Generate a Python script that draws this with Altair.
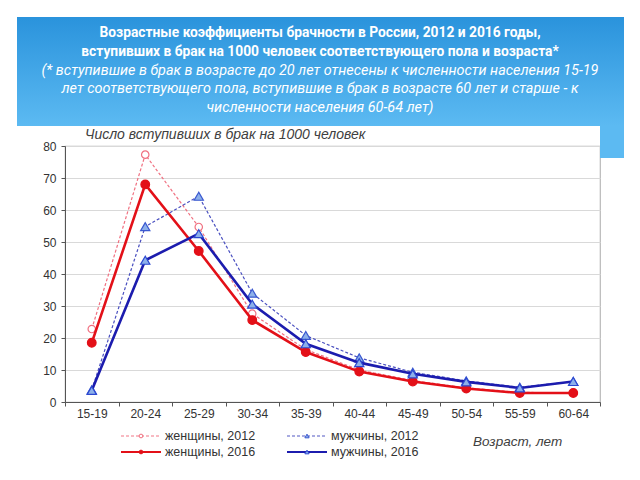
import altair as alt
import pandas as pd

# ---- data ----
ages = ["15-19", "20-24", "25-29", "30-34", "35-39", "40-44", "45-49", "50-54", "55-59", "60-64"]
women_2012 = [22.8, 77.3, 54.7, 27.6, 16.4, 10.0, 6.7, 4.4, 3.0, 2.9]
men_2012 = [3.8, 54.8, 64.3, 34.0, 20.8, 13.8, 9.3, 6.6, 4.6, 6.4]
women_2016 = [18.5, 68.0, 47.2, 25.6, 15.6, 9.5, 6.4, 4.2, 2.8, 2.8]
men_2016 = [3.6, 44.3, 52.6, 30.6, 18.2, 12.3, 8.8, 6.3, 4.4, 6.4]
series_names = ["женщины, 2012", "мужчины, 2012", "женщины, 2016", "мужчины, 2016"]
y_ticks = [0, 10, 20, 30, 40, 50, 60, 70, 80]

title_bold = [
    "Возрастные коэффициенты брачности в России, 2012 и 2016 годы,",
    "вступивших в брак на 1000 человек соответствующего пола и возраста*",
]
title_italic = [
    "(* вступившие в брак в возрасте до 20 лет отнесены к численности населения 15-19",
    "лет соответствующего пола, вступившие в брак в возрасте 60 лет и старше - к",
    "численности населения 60-64 лет)",
]
y_title = "Число вступивших в брак на 1000 человек"
x_title = "Возраст, лет"

rows = []
for name, vals in zip(series_names, [women_2012, men_2012, women_2016, men_2016]):
    for a, v in zip(ages, vals):
        rows.append({"age": a, "value": v, "series": name})
df = pd.DataFrame(rows)
dummy = pd.DataFrame({"d": [0]})

W, H = 535, 256
AX_FONT = "Liberation Sans"
TITLE_FONT = "Roboto"

styles = {
    "женщины, 2012": dict(color="#f07080", width=1.2, dash=[3, 2], shape="circle",
                          fill="#ffffff", stroke="#f07080", size=55, lsize=14),
    "мужчины, 2012": dict(color="#4a50c0", width=1.2, dash=[3, 2], shape="triangle-up",
                          fill="#8db0ea", stroke="#3a58d0", size=85, lsize=18),
    "женщины, 2016": dict(color="#e31018", width=2.6, dash=None, shape="circle",
                          fill="#e31018", stroke="#e31018", size=75, lsize=14),
    "мужчины, 2016": dict(color="#1c1cae", width=2.6, dash=None, shape="triangle-up",
                          fill="#8db0ea", stroke="#2c48d0", size=85, lsize=18),
}

x_enc = alt.X(
    "age:N", sort=ages, bandPosition=0.5,
    scale=alt.Scale(type="band", paddingInner=0, paddingOuter=0),
    axis=alt.Axis(title=None, labelAngle=0, tickBand="extent", tickSize=4,
                  labelPadding=2, labelFont=AX_FONT, labelFontSize=12,
                  labelColor="#333333", domainColor="#555555", tickColor="#555555",
                  grid=False),
)
y_enc = alt.Y(
    "value:Q", scale=alt.Scale(domain=[0, 80], nice=False),
    axis=alt.Axis(title=None, values=y_ticks, tickSize=4, labelPadding=5,
                  labelFont=AX_FONT, labelFontSize=12, labelColor="#333333",
                  domainColor="#555555", tickColor="#555555",
                  grid=True, gridColor="#d9d9d9", gridWidth=1),
)

layers = []

# banner
banner_grad = alt.Gradient(
    gradient="linear", x1=0, y1=0, x2=0, y2=1,
    stops=[alt.GradientStop(color="#2a93dc", offset=0),
           alt.GradientStop(color="#5cbaf2", offset=1)],
)
layers.append(alt.Chart(dummy).mark_rect(fill=banner_grad).encode(
    x=alt.value(-48), x2=alt.value(559), y=alt.value(-129), y2=alt.value(-20)))
layers.append(alt.Chart(dummy).mark_rect(fill="#5cbaf2").encode(
    x=alt.value(535), x2=alt.value(559), y=alt.value(-21), y2=alt.value(12)))

title_ys_bold = [-113, -94]
title_ys_it = [-75, -57, -38]
for t, yy in zip(title_bold, title_ys_bold):
    layers.append(alt.Chart(dummy).mark_text(
        text=t, font=TITLE_FONT, fontSize=13.8, fontWeight="bold", color="#ffffff",
        align="center", baseline="middle").encode(x=alt.value(255), y=alt.value(yy)))
for t, yy in zip(title_italic, title_ys_it):
    layers.append(alt.Chart(dummy).mark_text(
        text=t, font=TITLE_FONT, fontSize=14.4, fontStyle="italic", color="#ffffff",
        align="center", baseline="middle").encode(x=alt.value(255), y=alt.value(yy)))

# axis titles
layers.append(alt.Chart(dummy).mark_text(
    text=y_title, font=AX_FONT, fontSize=14, fontStyle="italic", color="#404040",
    align="left", baseline="middle").encode(x=alt.value(20), y=alt.value(-11)))
layers.append(alt.Chart(dummy).mark_text(
    text=x_title, font=AX_FONT, fontSize=13.5, fontStyle="italic", color="#404040",
    align="left", baseline="middle").encode(x=alt.value(408), y=alt.value(296)))

# data series
for name in series_names:
    s = styles[name]
    base = alt.Chart(df).transform_filter(alt.datum.series == name)
    line_kw = dict(color=s["color"], strokeWidth=s["width"])
    if s["dash"]:
        line_kw["strokeDash"] = s["dash"]
    layers.append(base.mark_line(**line_kw).encode(x=x_enc, y=y_enc))
    layers.append(base.mark_point(shape=s["shape"], filled=True, fill=s["fill"],
                                  stroke=s["stroke"], strokeWidth=1.2, size=s["size"],
                                  opacity=1).encode(x=x_enc, y=y_enc))

# manual legend
legend_slots = {
    "женщины, 2012": (56, 290),
    "мужчины, 2012": (222, 290),
    "женщины, 2016": (56, 306),
    "мужчины, 2016": (222, 306),
}
for name in series_names:
    s = styles[name]
    lx, ly = legend_slots[name]
    rule_kw = dict(color=s["color"], strokeWidth=s["width"] * 0.8)
    if s["dash"]:
        rule_kw["strokeDash"] = s["dash"]
    layers.append(alt.Chart(dummy).mark_rule(**rule_kw).encode(
        x=alt.value(lx), x2=alt.value(lx + 40), y=alt.value(ly)))
    layers.append(alt.Chart(dummy).mark_point(
        shape=s["shape"], filled=True, fill=s["fill"], stroke=s["stroke"],
        strokeWidth=1, size=s["lsize"], opacity=1).encode(
        x=alt.value(lx + 20), y=alt.value(ly)))
    layers.append(alt.Chart(dummy).mark_text(
        text=name, font=AX_FONT, fontSize=12.5, color="#333333",
        align="left", baseline="middle").encode(x=alt.value(lx + 44), y=alt.value(ly)))

chart = alt.layer(*layers).properties(
    width=W, height=H,
    autosize=alt.AutoSizeParams(type="none"),
    padding={"left": 57, "top": 138, "right": 24, "bottom": 66},
).configure_view(stroke="#b8b8b8", strokeWidth=1.2)

chart.save("out.html", embed_options={"renderer": "svg", "actions": False})
